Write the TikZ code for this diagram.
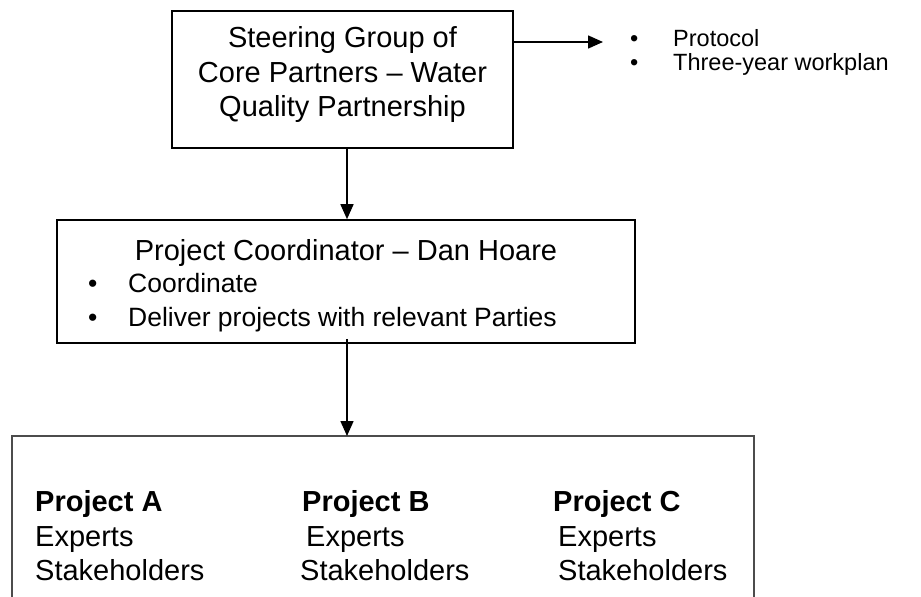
\documentclass[tikz,border=0pt]{standalone}
\usepackage{fontspec}
\setmainfont{Liberation Sans}
\usetikzlibrary{arrows.meta}
\begin{document}
\begin{tikzpicture}[x=1bp,y=-1bp,
  boxline/.style={draw=black,line width=1.6bp,inner sep=0pt},
  openbox/.style={draw=black!70,line width=1.5bp},
  conn/.style={line width=1.6bp,-{Triangle[length=15bp,width=13bp]}},
  bigtxt/.style={font=\fontsize{29bp}{34.5bp}\selectfont,inner sep=0pt,anchor=base},
  midtxt/.style={font=\fontsize{26.5bp}{33bp}\selectfont,inner sep=0pt,anchor=base west},
  smalltxt/.style={font=\fontsize{23.5bp}{25bp}\selectfont,inner sep=0pt,anchor=base west},
  bottxt/.style={font=\fontsize{29bp}{35bp}\selectfont,inner sep=0pt,anchor=base west},
  botbold/.style={bottxt,font=\fontsize{29bp}{35bp}\selectfont\bfseries}]
\useasboundingbox (0,0) rectangle (921,597);
% boxes
\node[boxline,minimum width=341bp,minimum height=137bp] (steer) at (342.5,79.5) {};
\node[boxline,minimum width=578bp,minimum height=123bp] (coord) at (346,281.5) {};
\draw[openbox] (12,600) |- (754,436) -- (754,600);
\coordinate (projtop) at (347,436);
\coordinate (downx) at (347,0);
% steering text
\node[bigtxt] (s1) at (342.5,47.5) {Steering Group of};
\node[bigtxt] (s2) at (342.5,82.5) {Core Partners – Water};
\node[bigtxt] (s3) at (342.5,117) {Quality Partnership};
% outputs list
\coordinate (listarrow) at (603,42);
\node[smalltxt] (lb1) at (630,46.5) {•};
\node[smalltxt] (l1) at (673,46.5) {Protocol};
\node[smalltxt] (lb2) at (630,71) {•};
\node[smalltxt] (l2) at (673,71) {Three-year workplan};
% coordinator text
\node[bigtxt] (c0) at (346,261) {Project Coordinator – Dan Hoare};
\node[midtxt] (cb1) at (88,292.5) {•};
\node[midtxt] (c1) at (128,292.5) {Coordinate};
\node[midtxt] (cb2) at (88,326) {•};
\node[midtxt] (c2) at (128,326) {Deliver projects with relevant Parties};
% projects
\node[botbold] (pa) at (35,511) {Project A};
\node[bottxt] (pae) at (35,546) {Experts};
\node[bottxt] (pas) at (35,580) {Stakeholders};
\node[botbold] (pb) at (302,511) {Project B};
\node[bottxt] (pbe) at (306,546) {Experts};
\node[bottxt] (pbs) at (300,580) {Stakeholders};
\node[botbold] (pc) at (553,511) {Project C};
\node[bottxt] (pce) at (558,546) {Experts};
\node[bottxt] (pcs) at (558,580) {Stakeholders};
% connectors
\draw[conn] (listarrow -| steer.east) -- (listarrow);
\draw[conn] (downx |- steer.south) -- (downx |- coord.north);
\draw[conn] ([yshift=5bp]projtop |- coord.south) -- (projtop);
\end{tikzpicture}
\end{document}
